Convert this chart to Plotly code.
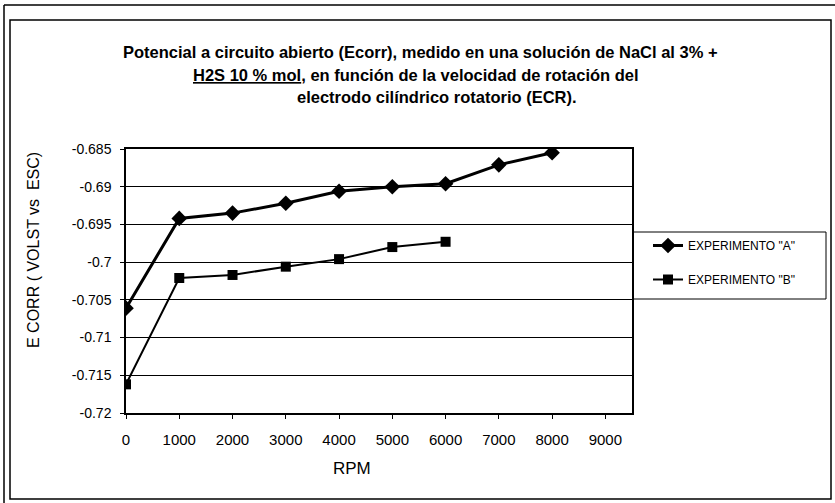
import plotly.graph_objects as go

# ---- data ----
rpm_a = [0, 1000, 2000, 3000, 4000, 5000, 6000, 7000, 8000]
ecorr_a = [-0.7061, -0.6942, -0.6935, -0.6922, -0.6906, -0.6900, -0.6896, -0.6871, -0.6855]
rpm_b = [0, 1000, 2000, 3000, 4000, 5000, 6000]
ecorr_b = [-0.7162, -0.7021, -0.7017, -0.7006, -0.6996, -0.6980, -0.6973]
y_tick_vals = [-0.685, -0.69, -0.695, -0.7, -0.705, -0.71, -0.715, -0.72]
y_tick_text = ["-0.685", "-0.69", "-0.695", "-0.7", "-0.705", "-0.71", "-0.715", "-0.72"]
x_tick_vals = [0, 1000, 2000, 3000, 4000, 5000, 6000, 7000, 8000, 9000]
x_tick_text = ["0", "1000", "2000", "3000", "4000", "5000", "6000", "7000", "8000", "9000"]

FONT = "Liberation Sans, Arial, sans-serif"
W, H = 835, 503
L, R, T, B = 126, 632, 149, 413  # plot area in pixels


def px(x):
    return (x - L) / (R - L)


def py(y):
    return (B - y) / (B - T)


fig = go.Figure()
fig.add_trace(go.Scatter(
    x=rpm_a, y=ecorr_a, mode="lines+markers", name='EXPERIMENTO "A"',
    line=dict(color="black", width=3),
    marker=dict(symbol="diamond", size=12, color="black"),
    legendgroup="a",
))
fig.add_trace(go.Scatter(
    x=rpm_b, y=ecorr_b, mode="lines+markers", name='EXPERIMENTO "B"',
    line=dict(color="black", width=2),
    marker=dict(symbol="square", size=10, color="black"),
    legendgroup="b",
))

title_lines = [
    ("Potencial a circuito abierto (Ecorr), medido en una solución de NaCl al 3% +", 420, 52),
    ("<u>H2S 10 % mol</u>, en función de la velocidad de rotación del", 416, 75),
    ("electrodo cilíndrico rotatorio (ECR).", 437, 97),
]
annotations = []
for txt, x0, y0 in title_lines:
    annotations.append(dict(
        text="<b>" + txt + "</b>", x=px(x0), y=py(y0), xref="paper", yref="paper",
        showarrow=False, xanchor="center", yanchor="middle",
        font=dict(family=FONT, size=16.5, color="black"),
    ))
annotations.append(dict(
    text="E CORR ( VOLST vs  ESC)", x=px(33), y=py(250), xref="paper", yref="paper",
    showarrow=False, textangle=-90, xanchor="center", yanchor="middle",
    font=dict(family=FONT, size=16, color="black"),
))
annotations.append(dict(
    text="RPM", x=px(352), y=py(468), xref="paper", yref="paper",
    showarrow=False, xanchor="center", yanchor="middle",
    font=dict(family=FONT, size=17, color="black"),
))

shapes = [
    # chart area frame
    dict(type="rect", xref="paper", yref="paper",
         x0=px(10), x1=px(831), y0=py(20), y1=py(499),
         line=dict(color="black", width=1.5)),
    # outer page lines
    dict(type="line", xref="paper", yref="paper",
         x0=px(4), x1=px(835), y0=py(5), y1=py(5),
         line=dict(color="black", width=1.5)),
    dict(type="line", xref="paper", yref="paper",
         x0=px(4), x1=px(4), y0=py(5), y1=py(503),
         line=dict(color="black", width=1.5)),
    # legend box
    dict(type="rect", xref="paper", yref="paper",
         x0=px(633), x1=px(826), y0=py(232), y1=py(299),
         line=dict(color="black", width=1)),
]

fig.update_layout(
    width=W, height=H,
    margin=dict(l=L, r=W - R, t=T, b=H - B, pad=0),
    paper_bgcolor="white", plot_bgcolor="white",
    font=dict(family=FONT, size=13, color="black"),
    showlegend=True,
    legend=dict(
        x=px(648), y=py(231), xanchor="left", yanchor="top",
        bgcolor="rgba(0,0,0,0)", borderwidth=0,
        font=dict(family=FONT, size=12, color="black"),
        traceorder="grouped", tracegroupgap=15,
    ),
    annotations=annotations,
    shapes=shapes,
    xaxis=dict(
        range=[0, 9500], tickvals=x_tick_vals, ticktext=x_tick_text,
        showgrid=False, zeroline=False,
        showline=True, linecolor="black", linewidth=1.5, mirror=True,
        ticks="outside", ticklen=4, tickcolor="black",
        tickfont=dict(family=FONT, size=15, color="black"),
        ticklabelstandoff=8,
    ),
    yaxis=dict(
        range=[-0.72, -0.685], tickvals=y_tick_vals, ticktext=y_tick_text,
        showgrid=True, gridcolor="black", gridwidth=1, zeroline=False,
        showline=True, linecolor="black", linewidth=1.5, mirror=True,
        ticks="outside", ticklen=4, tickcolor="black",
        tickfont=dict(family=FONT, size=14, color="black"),
        ticklabelstandoff=6,
    ),
)

fig.write_html("out.html", config={"displayModeBar": False},
               post_script="document.body.style.margin='0px';")
